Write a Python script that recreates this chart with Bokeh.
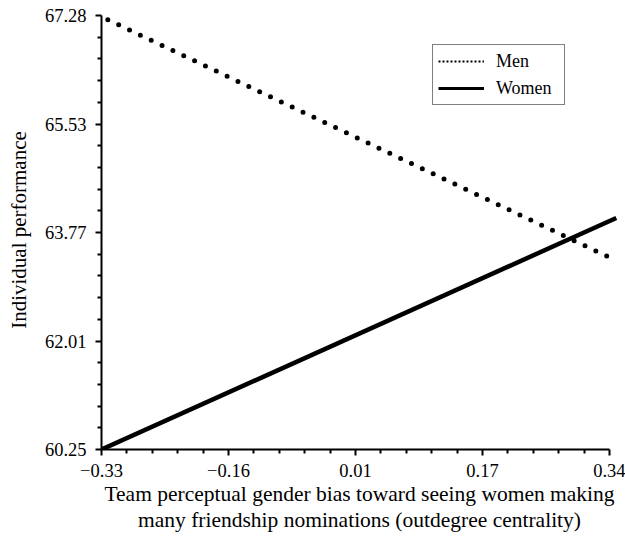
from bokeh.plotting import figure
from bokeh.models import FixedTicker, Range1d, Legend, LegendItem
from bokeh.embed import file_html
from bokeh.resources import INLINE

# ---- data ----
x_tick_values = [-0.33, -0.1625, 0.005, 0.1725, 0.34]
x_tick_labels = ["\u22120.33", "\u22120.16", "0.01", "0.17", "0.34"]
y_tick_values = [60.25, 62.0075, 63.765, 65.5225, 67.28]
y_tick_labels = ["60.25", "62.01", "63.77", "65.53", "67.28"]

x_ends = [-0.33, 0.349]
men = [67.26, 63.31]
women = [60.25, 64.00]

x_title = ("Team perceptual gender bias toward seeing women making\n"
           "many friendship nominations (outdegree centrality)")
y_title = "Individual performance"

FONT = "Liberation Serif"

p = figure(width=625, height=537, output_backend="svg", toolbar_location=None,
           x_range=Range1d(-0.33, 0.3506), y_range=Range1d(60.25, 67.361),
           min_border_left=101, min_border_right=8, min_border_top=10, min_border_bottom=88)
p.outline_line_color = None
p.grid.visible = False
p.background_fill_color = "white"
p.border_fill_color = "white"

r_men = p.line(x_ends, men, line_color="black", line_width=5, line_dash="0 12",
               line_dash_offset=5, line_cap="round")
r_women = p.line(x_ends, women, line_color="black", line_width=4.5)

# legend proxies (thinner styles as in reference legend), drawn off-screen
leg_men = p.line([10, 11], [0, 0], line_color="black", line_width=2, line_dash="2 2")
leg_women = p.line([10, 11], [0, 0], line_color="black", line_width=3)

legend = Legend(items=[LegendItem(label="Men", renderers=[leg_men]),
                       LegendItem(label="Women", renderers=[leg_women])],
                location=(331, 344))
legend.label_text_font = FONT
legend.label_text_font_size = "18px"
legend.label_text_color = "black"
legend.border_line_color = "black"
legend.border_line_width = 1.5
legend.glyph_width = 46
legend.glyph_height = 20
legend.label_height = 22
legend.label_width = 63
legend.label_standoff = 12
legend.padding = 5
legend.spacing = 5
legend.margin = 0
legend.background_fill_alpha = 1
p.add_layout(legend)

def minors(vals, n=5):
    out = []
    for a, b in zip(vals[:-1], vals[1:]):
        for i in range(1, n):
            out.append(a + (b - a) * i / n)
    return out

xa = p.xaxis[0]
xa.ticker = FixedTicker(ticks=x_tick_values, minor_ticks=minors(x_tick_values))
xa.major_label_overrides = {v: l for v, l in zip(x_tick_values, x_tick_labels)}
xa.bounds = (-0.33, 0.34)
xa.axis_label = x_title

ya = p.yaxis[0]
ya.ticker = FixedTicker(ticks=y_tick_values, minor_ticks=minors(y_tick_values))
ya.major_label_overrides = {v: l for v, l in zip(y_tick_values, y_tick_labels)}
ya.bounds = (60.25, 67.28)
ya.axis_label = y_title

for ax in (xa, ya):
    ax.axis_line_width = 2
    ax.axis_line_color = "black"
    ax.major_tick_line_width = 2
    ax.minor_tick_line_width = 2
    ax.major_tick_in = 0
    ax.major_tick_out = 6
    ax.minor_tick_in = 0
    ax.minor_tick_out = 4
    ax.major_label_text_font = FONT
    ax.major_label_text_font_size = "18.5px"
    ax.major_label_text_color = "black"
    ax.axis_label_text_font = FONT
    ax.axis_label_text_font_style = "normal"
    ax.axis_label_text_color = "black"
    ax.axis_label_text_line_height = 1.1

xa.axis_label_text_font_size = "21.5px"
ya.axis_label_text_font_size = "21px"
xa.major_label_standoff = 8
ya.major_label_standoff = 9
xa.axis_label_standoff = 2
ya.axis_label_standoff = 11

open("out.html", "w").write(file_html(p, INLINE))
